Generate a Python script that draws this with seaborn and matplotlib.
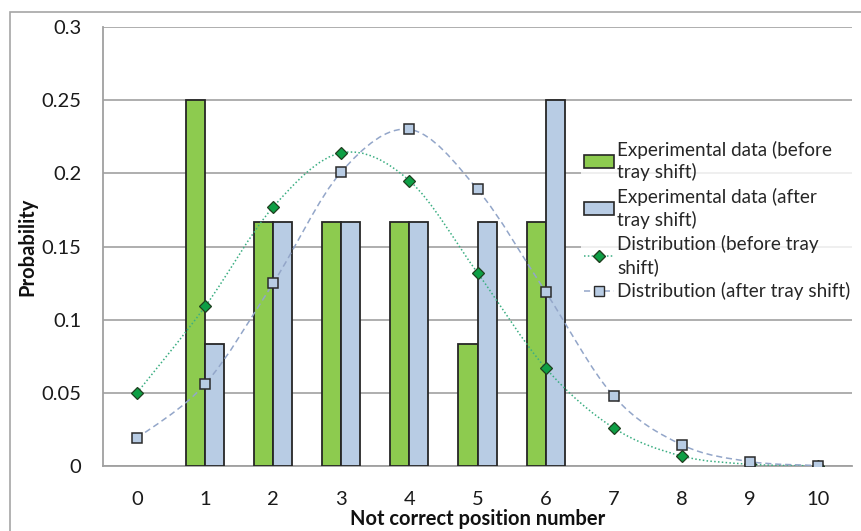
import numpy as np
import pandas as pd
import matplotlib
matplotlib.use("Agg")
import matplotlib.pyplot as plt
import seaborn as sns
from matplotlib.path import Path
from matplotlib.patches import PathPatch, Patch, Rectangle
from matplotlib.lines import Line2D
from matplotlib.ticker import FixedLocator, FuncFormatter

# data
positions = list(range(11))
bar_positions = [1, 2, 3, 4, 5, 6]
bars_before = [0.25, 0.1667, 0.1667, 0.1667, 0.0833, 0.1667]
bars_after = [0.0833, 0.1667, 0.1667, 0.1667, 0.1667, 0.25]
dist_before = [0.050, 0.109, 0.177, 0.214, 0.195, 0.132, 0.067, 0.026, 0.0068, 0.0012, 0.0001]
dist_after = [0.019, 0.056, 0.125, 0.201, 0.230, 0.189, 0.119, 0.0477, 0.0145, 0.003, 0.0003]

lbl_bar_before = "Experimental data (before\ntray shift)"
lbl_bar_after = "Experimental data (after\ntray shift)"
lbl_dist_before = "Distribution (before tray\nshift)"
lbl_dist_after = "Distribution (after tray shift)"

green = "#8DCB4F"
blue = "#B8CCE4"
green_mk = "#0E9F45"
green_ln = "#3BAE82"
blue_ln = "#93A6C9"

sns.set_style("white")
plt.rcParams["font.family"] = ["Lato", "DejaVu Sans"]

fig = plt.figure(figsize=(8.61, 5.31), dpi=100)
ax = fig.add_axes([103 / 861, 65 / 531, 749 / 861, 439 / 531])

# outer chart border
fig.patches.append(Rectangle((10 / 861, -0.1), 1.2, (531 - 12) / 531 + 0.1,
                             transform=fig.transFigure, fill=False,
                             edgecolor="#A6A6A6", lw=1.2, zorder=0))

bar_df = pd.DataFrame({
    "pos": bar_positions * 2,
    "prob": bars_before + bars_after,
    "series": [lbl_bar_before] * len(bar_positions) + [lbl_bar_after] * len(bar_positions),
})
sns.barplot(data=bar_df, x="pos", y="prob", hue="series", order=positions,
            hue_order=[lbl_bar_before, lbl_bar_after],
            palette={lbl_bar_before: green, lbl_bar_after: blue}, saturation=1,
            width=0.56, gap=0, edgecolor="#262626", linewidth=1.3,
            legend=False, ax=ax, zorder=3)


def smooth_path(xs, ys):
    # Excel style smoothed line (Catmull-Rom as cubic bezier)
    pts = np.column_stack([xs, ys]).astype(float)
    verts = [pts[0]]
    codes = [Path.MOVETO]
    n = len(pts)
    for i in range(n - 1):
        p0 = pts[i - 1] if i > 0 else pts[i]
        p1 = pts[i]
        p2 = pts[i + 1]
        p3 = pts[i + 2] if i + 2 < n else pts[i + 1]
        verts += [p1 + (p2 - p0) / 6, p2 - (p3 - p1) / 6, p2]
        codes += [Path.CURVE4] * 3
    return Path(verts, codes)


ax.add_patch(PathPatch(smooth_path(positions, dist_before), fill=False,
                       edgecolor=green_ln, lw=1.1, ls=(0, (1, 1.5)), zorder=4))
ax.add_patch(PathPatch(smooth_path(positions, dist_after), fill=False,
                       edgecolor=blue_ln, lw=1.1, ls=(0, (4, 2.5)), zorder=4))

sns.lineplot(x=positions, y=dist_before, marker="D", markersize=6.5, linestyle="",
             color=green_mk, markeredgecolor="#1F3F1F", markeredgewidth=0.9,
             ax=ax, zorder=5)
sns.lineplot(x=positions, y=dist_after, marker="s", markersize=7.5, linestyle="",
             color=blue, markeredgecolor="#2B2B2B", markeredgewidth=1.1,
             ax=ax, zorder=5)

ax.set_xlim(-0.5, 10.5)
ax.set_ylim(0, 0.3)
ax.set_yticks([0, 0.05, 0.1, 0.15, 0.2, 0.25, 0.3])
ax.yaxis.set_major_formatter(FuncFormatter(lambda v, p: f"{v:g}"))
ax.set_xticks(positions)
ax.set_xticklabels([str(p) for p in positions])
ax.xaxis.set_minor_locator(FixedLocator([k + 0.5 for k in range(-1, 11)]))

ax.grid(axis="y", color="#A8A8A8", lw=1.3, zorder=0)
ax.set_axisbelow(True)
for side in ["top", "right"]:
    ax.spines[side].set_visible(False)
for side in ["left", "bottom"]:
    ax.spines[side].set_color("#A0A0A0")
    ax.spines[side].set_linewidth(1.3)

ax.tick_params(axis="y", which="major", direction="out", length=4.5, width=1.2,
               color="#A0A0A0", pad=11, labelsize=14.5, labelcolor="#1A1A1A")
ax.tick_params(axis="x", which="major", length=0, pad=18, labelsize=14.5,
               labelcolor="#1A1A1A")
ax.tick_params(axis="x", which="minor", direction="inout", length=10, width=1.2,
               color="#A0A0A0")

ax.set_xlabel("Not correct position number", fontsize=14.5, fontweight="bold",
              labelpad=1, color="#111111")
ax.set_ylabel("Probability", fontsize=14.5, fontweight="bold", labelpad=3,
              color="#111111")

handles = [
    Patch(facecolor=green, edgecolor="#262626", lw=1.2),
    Patch(facecolor=blue, edgecolor="#262626", lw=1.2),
    Line2D([], [], color=green_ln, ls=(0, (1, 1.5)), lw=1.1, marker="D",
           markersize=6, markerfacecolor=green_mk, markeredgecolor="#1F3F1F"),
    Line2D([], [], color=blue_ln, ls=(0, (4, 2.5)), lw=1.1, marker="s",
           markersize=6.5, markerfacecolor=blue, markeredgecolor="#2B2B2B"),
]
leg = ax.legend(handles, [lbl_bar_before, lbl_bar_after, lbl_dist_before, lbl_dist_after],
                loc="upper left", bbox_to_anchor=(581 / 861, (531 - 138) / 531),
                bbox_transform=fig.transFigure, frameon=True, fancybox=False,
                fontsize=13.6, handlelength=1.6, handletextpad=0.15,
                labelspacing=0.35, borderpad=0.15, borderaxespad=0)
for t in leg.get_texts():
    t.set_linespacing(1.3)
leg.get_frame().set_facecolor("white")
leg.get_frame().set_edgecolor("none")
leg.set_zorder(6)

fig.savefig("out.png", dpi=100)
